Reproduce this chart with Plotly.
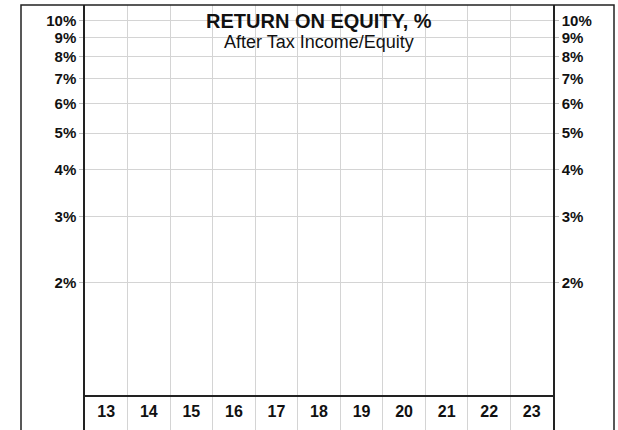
import math
import plotly.graph_objects as go

# ---- data ----
years = [13, 14, 15, 16, 17, 18, 19, 20, 21, 22, 23]
year_labels = ["13", "14", "15", "16", "17", "18", "19", "20", "21", "22", "23"]
y_ticks = [2, 3, 4, 5, 6, 7, 8, 9, 10]
y_tick_labels = ["2%", "3%", "4%", "5%", "6%", "7%", "8%", "9%", "10%"]
y_min, y_max = 1, 11
title = "RETURN ON EQUITY, %"
subtitle = "After Tax Income/Equity"

FONT = "Liberation Sans, Arial, Helvetica, sans-serif"
GRID = "#d4d4d4"
LINE = "#222222"
TXT = "#111111"

W, H = 618, 430
ML, MR, MT, MB = 85, 65, 5, 0
PW = W - ML - MR
split = 35 / 425

fig = go.Figure()

fig.add_trace(go.Scatter(x=years, y=[None] * len(years), xaxis="x2", yaxis="y",
                         mode="markers", showlegend=False, hoverinfo="skip"))
fig.add_trace(go.Scatter(x=years, y=[None] * len(years), xaxis="x2", yaxis="y2",
                         mode="markers", showlegend=False, hoverinfo="skip"))
fig.add_trace(go.Scatter(x=years, y=[0.5] * len(years), text=year_labels,
                         mode="text", xaxis="x", yaxis="y3",
                         textfont=dict(family=FONT, size=16, color=TXT, weight="bold"),
                         showlegend=False, hoverinfo="skip"))

xcommon = dict(range=[years[0] - 0.5, years[-1] + 0.5], showgrid=False,
               showticklabels=False, ticks="", zeroline=False,
               minor=dict(tick0=years[0] - 0.5, dtick=1, showgrid=True,
                          gridcolor=GRID, gridwidth=1, ticks=""))

tickfont = dict(family=FONT, size=15, color=TXT, weight="bold")

fig.update_layout(
    width=W, height=H,
    margin=dict(l=ML, r=MR, t=MT, b=MB, pad=0),
    paper_bgcolor="white", plot_bgcolor="white",
    font=dict(family=FONT, color=TXT),
    xaxis=dict(**xcommon, anchor="y3", domain=[0, 1], showline=False),
    xaxis2=dict(**xcommon, anchor="y", domain=[0, 1], matches="x",
                showline=True, linecolor=LINE, linewidth=1.5),
    yaxis=dict(type="log", range=[math.log10(y_min), math.log10(y_max)],
               domain=[split, 1], tickvals=y_ticks, ticktext=y_tick_labels,
               ticks="outside", ticklen=4, tickcolor="#bbbbbb",
               showgrid=True, gridcolor=GRID, gridwidth=1,
               showline=True, linecolor=LINE, linewidth=1.5,
               tickfont=tickfont, zeroline=False, anchor="x2"),
    yaxis2=dict(type="log", range=[math.log10(y_min), math.log10(y_max)],
                domain=[split, 1], tickvals=y_ticks, ticktext=y_tick_labels,
                overlaying="y", side="right", anchor="x2",
                ticks="outside", ticklen=4, tickcolor="#bbbbbb",
                showgrid=False, showline=True, linecolor=LINE, linewidth=1.5,
                tickfont=tickfont, zeroline=False),
    yaxis3=dict(range=[0, 1], domain=[0, split], anchor="x",
                showgrid=False, showticklabels=False, ticks="",
                showline=True, linecolor=LINE, linewidth=1.5, mirror=True,
                zeroline=False),
    annotations=[
        dict(text="<b>" + title + "</b>", xref="paper", yref="paper",
             x=0.5, y=1, yshift=-4, xanchor="center", yanchor="top",
             borderpad=0, showarrow=False,
             font=dict(family=FONT, size=20, color=TXT)),
        dict(text=subtitle, xref="paper", yref="paper",
             x=0.5, y=1, yshift=-26, xanchor="center", yanchor="top",
             borderpad=0, showarrow=False,
             font=dict(family=FONT, size=18, color=TXT)),
    ],
    shapes=[
        dict(type="rect", xref="paper", yref="paper",
             x0=(21 - ML) / PW, x1=(614 - ML) / PW, y0=-0.1, y1=1,
             line=dict(color=LINE, width=1.5), fillcolor="rgba(0,0,0,0)",
             layer="above"),
    ],
)

fig.write_html("out.html",
               config={"displayModeBar": False},
               post_script="document.body.style.margin='0';document.body.style.overflow='hidden';")
